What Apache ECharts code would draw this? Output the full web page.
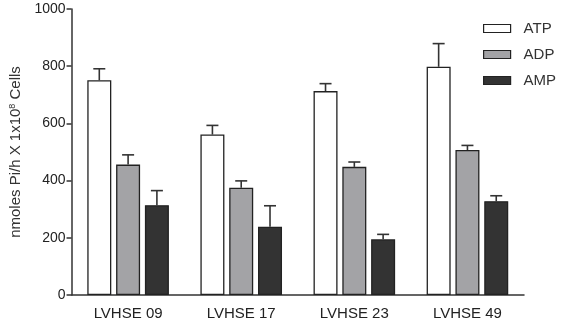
<!DOCTYPE html>
<html>
<head>
<meta charset="utf-8">
<script src="https://cdn.jsdelivr.net/npm/echarts@6/dist/echarts.min.js"></script>
<style>
  html, body { margin: 0; padding: 0; background: #fff; }
  #chart-container { width: 562px; height: 326px; }
</style>
</head>
<body>
<div id="chart-container"></div>
<script>
var categories = ['LVHSE 09', 'LVHSE 17', 'LVHSE 23', 'LVHSE 49'];
var seriesNames = ['ATP', 'ADP', 'AMP'];
var atp = [751, 561, 713, 798];
var adp = [456, 375, 448, 507];
var amp = [314, 239, 195, 328];
var atpErr = [791, 593, 739, 879];
var adpErr = [490, 399, 465, 523];
var ampErr = [365, 312, 212, 347];

var chartDom = document.getElementById('chart-container');
var myChart = echarts.init(chartDom);

var fills = ['#ffffff', '#a3a3a6', '#333333'];
var offsets = [-28.8, 0, 28.8];
var values = [atp, adp, amp];
var errs = [atpErr, adpErr, ampErr];

function errorSeries(k) {
  return {
    type: 'custom',
    name: seriesNames[k] + ' err',
    z: 1,
    silent: true,
    data: categories.map(function (c, i) { return [i, values[k][i], errs[k][i]]; }),
    renderItem: function (params, api) {
      var base = api.coord([api.value(0), api.value(1)]);
      var top = api.coord([api.value(0), api.value(2)]);
      var x = base[0] + offsets[k];
      var st = { stroke: '#333', lineWidth: 1.6 };
      return {
        type: 'group',
        children: [
          { type: 'line', shape: { x1: x, y1: base[1], x2: x, y2: top[1] }, style: st },
          { type: 'line', shape: { x1: x - 6, y1: top[1], x2: x + 6, y2: top[1] }, style: st }
        ]
      };
    }
  };
}

var series = [];
for (var k = 0; k < 3; k++) {
  series.push({
    name: seriesNames[k],
    type: 'bar',
    z: 2,
    barWidth: 24,
    barGap: '20%',
    data: values[k],
    itemStyle: { color: fills[k], borderColor: '#222', borderWidth: 1.3 }
  });
}
for (var k2 = 0; k2 < 3; k2++) series.push(errorSeries(k2));

option = {
  animation: false,
  textStyle: { fontFamily: 'Liberation Sans, Arial, sans-serif' },
  grid: { left: 68, right: 38, top: 9, bottom: 31 },
  legend: {
    data: seriesNames,
    orient: 'vertical',
    left: 478,
    top: 16,
    itemWidth: 27,
    itemHeight: 8,
    itemGap: 11,
    icon: 'rect',
    textStyle: { fontSize: 15, color: '#333', padding: [0, 0, 0, 8] },
    itemStyle: { borderColor: '#222', borderWidth: 1.2 }
  },
  xAxis: {
    type: 'category',
    data: categories,
    axisLine: { lineStyle: { color: '#333', width: 1.5 } },
    axisTick: { alignWithLabel: true, length: 5, lineStyle: { color: '#333', width: 1.5 } },
    axisLabel: { fontSize: 15, color: '#222', margin: 11 }
  },
  yAxis: {
    type: 'value',
    min: 0,
    max: 1000,
    interval: 200,
    name: 'nmoles Pi/h X 1x10{sup|8} Cells',
    nameLocation: 'middle',
    nameGap: 44,
    nameTextStyle: {
      fontSize: 15,
      color: '#333',
      rich: {
        sup: { fontSize: 9, verticalAlign: 'top', padding: [0, 0, 7, 0], color: '#333' }
      }
    },
    axisLine: { show: true, lineStyle: { color: '#333', width: 1.5 } },
    axisTick: { show: true, length: 5, lineStyle: { color: '#333', width: 1.5 } },
    axisLabel: { fontSize: 14, color: '#222', margin: 6, formatter: function (v) { return String(v); } },
    splitLine: { show: false }
  },
  series: series
};

option && myChart.setOption(option);
</script>
</body>
</html>
